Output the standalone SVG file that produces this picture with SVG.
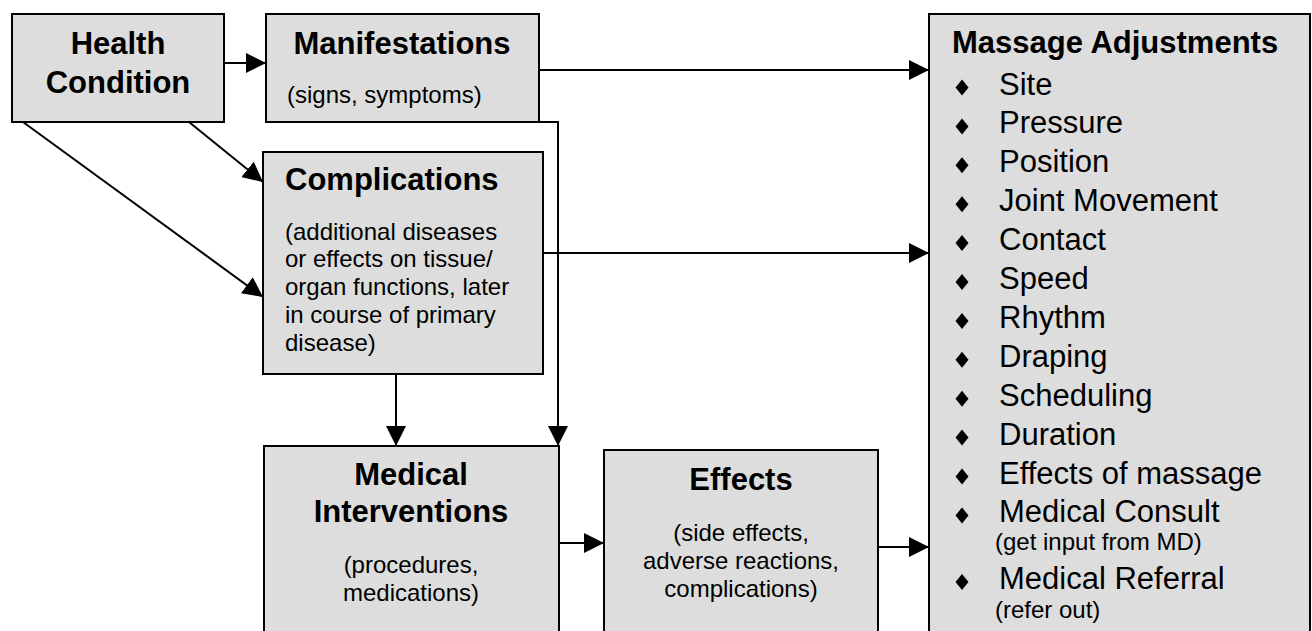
<svg xmlns="http://www.w3.org/2000/svg" width="1312" height="631" viewBox="0 0 1312 631">
  <style>
    .box { fill: #dddddd; stroke: #000; stroke-width: 2; }
    .title { font-family: "Liberation Sans", Arial, sans-serif; font-weight: bold; font-size: 31px; fill: #000; }
    .body { font-family: "Liberation Sans", Arial, sans-serif; font-size: 24px; fill: #000; }
    .item { font-family: "Liberation Sans", Arial, sans-serif; font-size: 31px; fill: #000; }
    .mid { text-anchor: middle; }
    .link { fill: none; stroke: #000; stroke-width: 2; }
  </style>
  <defs>
    <marker id="arrow" markerUnits="userSpaceOnUse" markerWidth="20" markerHeight="20" refX="20" refY="10" orient="auto">
      <path d="M0,0 L20,10 L0,20 Z" fill="#000"/>
    </marker>
    <path id="bullet" d="M0,-8 L6.5,0 L0,8 L-6.5,0 Z" fill="#000"/>
  </defs>

  <rect width="1312" height="631" fill="#fff"/>

  <!-- connectors -->
  <g id="connectors">
    <path class="link" d="M224,63 H266" marker-end="url(#arrow)"/>
    <path class="link" d="M539,70 H929" marker-end="url(#arrow)"/>
    <path class="link" d="M189,122 L263,182" marker-end="url(#arrow)"/>
    <path class="link" d="M23,122 L263,297" marker-end="url(#arrow)"/>
    <path class="link" d="M543,253 H929" marker-end="url(#arrow)"/>
    <path class="link" d="M539,122 H558 V446" marker-end="url(#arrow)"/>
    <path class="link" d="M396,374 V446" marker-end="url(#arrow)"/>
    <path class="link" d="M559,543 H604" marker-end="url(#arrow)"/>
    <path class="link" d="M878,547 H929" marker-end="url(#arrow)"/>
  </g>

  <g id="health-condition">
    <rect class="box" x="12" y="14" width="212" height="108"/>
    <text class="title mid" x="118" y="54">Health</text>
    <text class="title mid" x="118" y="93">Condition</text>
  </g>

  <g id="manifestations">
    <rect class="box" x="266" y="14" width="273" height="108"/>
    <text class="title mid" x="402" y="54">Manifestations</text>
    <text class="body" x="287" y="103">(signs, symptoms)</text>
  </g>

  <g id="complications">
    <rect class="box" x="263" y="152" width="280" height="222"/>
    <text class="title" x="285" y="190">Complications</text>
    <text class="body" x="285" y="240">(additional diseases</text>
    <text class="body" x="285" y="267">or effects on tissue/</text>
    <text class="body" x="285" y="295">organ functions, later</text>
    <text class="body" x="285" y="323">in course of primary</text>
    <text class="body" x="285" y="351">disease)</text>
  </g>

  <g id="medical-interventions">
    <rect class="box" x="264" y="446" width="295" height="260"/>
    <text class="title mid" x="411" y="485">Medical</text>
    <text class="title mid" x="411" y="522">Interventions</text>
    <text class="body mid" x="411" y="573">(procedures,</text>
    <text class="body mid" x="411" y="601">medications)</text>
  </g>

  <g id="effects">
    <rect class="box" x="604" y="450" width="274" height="260"/>
    <text class="title mid" x="741" y="490">Effects</text>
    <text class="body mid" x="741" y="541">(side effects,</text>
    <text class="body mid" x="741" y="569">adverse reactions,</text>
    <text class="body mid" x="741" y="597">complications)</text>
  </g>

  <g id="massage-adjustments">
    <rect class="box" x="929" y="14" width="381" height="700"/>
    <text class="title" x="952" y="53">Massage Adjustments</text>
    <use href="#bullet" x="962" y="87.5"/>
    <text class="item" x="999" y="94.5">Site</text>
    <use href="#bullet" x="962" y="126.4"/>
    <text class="item" x="999" y="133.4">Pressure</text>
    <use href="#bullet" x="962" y="165.3"/>
    <text class="item" x="999" y="172.3">Position</text>
    <use href="#bullet" x="962" y="204.2"/>
    <text class="item" x="999" y="211.2">Joint Movement</text>
    <use href="#bullet" x="962" y="243.1"/>
    <text class="item" x="999" y="250.1">Contact</text>
    <use href="#bullet" x="962" y="282"/>
    <text class="item" x="999" y="289">Speed</text>
    <use href="#bullet" x="962" y="320.9"/>
    <text class="item" x="999" y="327.9">Rhythm</text>
    <use href="#bullet" x="962" y="359.8"/>
    <text class="item" x="999" y="366.8">Draping</text>
    <use href="#bullet" x="962" y="398.7"/>
    <text class="item" x="999" y="405.7">Scheduling</text>
    <use href="#bullet" x="962" y="437.6"/>
    <text class="item" x="999" y="444.6">Duration</text>
    <use href="#bullet" x="962" y="476.5"/>
    <text class="item" x="999" y="483.5">Effects of massage</text>
    <use href="#bullet" x="962" y="515.4"/>
    <text class="item" x="999" y="522.4">Medical Consult</text>
    <text class="body" x="995" y="550">(get input from MD)</text>
    <use href="#bullet" x="962" y="582"/>
    <text class="item" x="999" y="589">Medical Referral</text>
    <text class="body" x="995" y="618">(refer out)</text>
  </g>
</svg>
